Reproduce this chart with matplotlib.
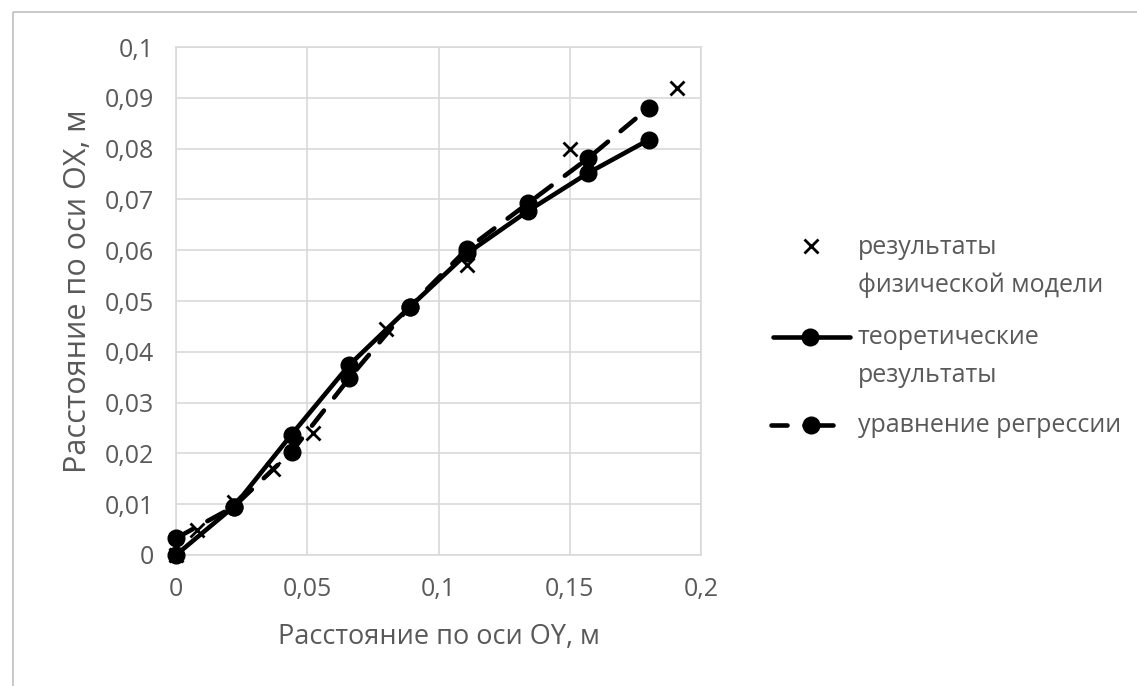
import matplotlib
matplotlib.use("Agg")
import matplotlib.pyplot as plt
from matplotlib.patches import Rectangle

plt.rcParams['font.family'] = ['Open Sans', 'DejaVu Sans']

# data
phys_x = [0, 0.008, 0.022, 0.037, 0.052, 0.080, 0.111, 0.150, 0.191]
phys_y = [0, 0.0049, 0.0105, 0.017, 0.024, 0.0444, 0.057, 0.080, 0.092]

theor_x = [0, 0.022, 0.044, 0.066, 0.089, 0.111, 0.134, 0.157, 0.180]
theor_y = [0, 0.0095, 0.0237, 0.0374, 0.0488, 0.0594, 0.0677, 0.0752, 0.0817]
regr_y = [0.0033, 0.0095, 0.0203, 0.0348, 0.0489, 0.0603, 0.0692, 0.0781, 0.0880]

xticks = [0, 0.05, 0.1, 0.15, 0.2]
xtick_labels = ['0', '0,05', '0,1', '0,15', '0,2']
yticks = [i / 100 for i in range(11)]
ytick_labels = ['0'] + ['0,%02d' % i for i in range(1, 10)] + ['0,1']

labels = ['результаты', 'физической модели', 'теоретические', 'результаты',
          'уравнение регрессии']

W, H = 1137, 686
txt = '#595959'
grid = '#d9d9d9'

fig = plt.figure(figsize=(W / 100, H / 100), dpi=100)

# frame of the chart area + manual legend, in pixel coords
lax = fig.add_axes([0, 0, 1, 1])
lax.set_xlim(0, W)
lax.set_ylim(H, 0)
lax.axis('off')
lax.add_patch(Rectangle((13, 12), W, H, fill=False, ec='#bfbfbf', lw=1.2))

ax = fig.add_axes([176 / W, 1 - 555 / H, (701 - 176) / W, (555 - 47) / H])
ax.set_xlim(0, 0.2)
ax.set_ylim(0, 0.1)
ax.set_xticks(xticks, xtick_labels)
ax.set_yticks(yticks, ytick_labels)
ax.tick_params(length=0, labelsize=18, labelcolor=txt, pad=16)
ax.grid(True, color=grid, lw=1.2)
ax.set_axisbelow(True)
for s in ax.spines.values():
    s.set_color(grid)
    s.set_linewidth(1.2)

ax.plot(phys_x, phys_y, ls='none', marker='x', ms=10, mew=2, color='black',
        zorder=3, clip_on=False)
ax.plot(theor_x, theor_y, '-', color='black', lw=3.3, marker='o', ms=12,
        solid_capstyle='round', zorder=4, clip_on=False)
dl, = ax.plot(theor_x, regr_y, '--', color='black', lw=3.3, marker='o', ms=12,
              dash_capstyle='round', zorder=5, clip_on=False)
dl.set_dashes((4.2, 3.6))

ax.set_xlabel('Расстояние по оси OY, м', fontsize=19.5, color=txt, labelpad=15)
ax.set_ylabel('Расстояние по оси ОХ, м', fontsize=22, color=txt)
ax.yaxis.set_label_coords(-0.158, 0.52)

# legend
lax.plot([811], [246], ls='none', marker='x', ms=10, mew=2, color='black')
lax.plot([773, 850], [337, 337], '-', color='black', lw=3.3, solid_capstyle='round')
lax.plot([810], [337], 'o', color='black', ms=12)
lax.plot([771, 787], [425, 425], '-', color='black', lw=3.3, solid_capstyle='round')
lax.plot([804, 833], [425, 425], '-', color='black', lw=3.3, solid_capstyle='round')
lax.plot([811], [425], 'o', color='black', ms=12)
for lab, y in zip(labels, [247, 285, 338, 376, 426]):
    lax.text(858, y, lab, fontsize=18, color=txt, va='center', ha='left')

fig.savefig('out.png', dpi=100)
